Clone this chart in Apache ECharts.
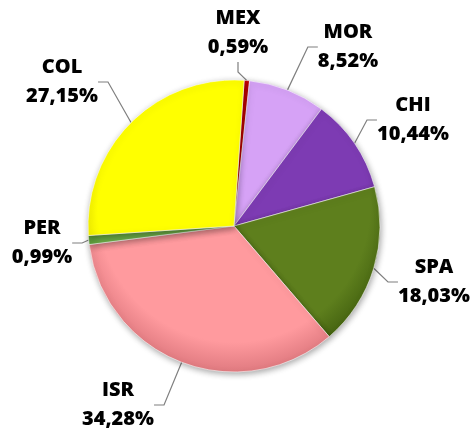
<!DOCTYPE html>
<html>
<head>
<meta charset="utf-8">
<script src="https://cdn.jsdelivr.net/npm/echarts@6/dist/echarts.min.js"></script>
<style>
html,body{margin:0;padding:0;background:#fff;}
#chart{width:470px;height:432px;}
</style>
</head>
<body>
<div id="chart"></div>
<script>
// ---- data ----
const categories = ['MEX', 'MOR', 'CHI', 'SPA', 'ISR', 'PER', 'COL'];
const shares = [0.59, 8.52, 10.44, 18.03, 34.28, 0.99, 27.15];

// ---- styles / layout (not data) ----
const sliceColors = ['#d40000', '#d6a2f6', '#7d3bb3', '#5e7f1d', '#ff9a9e', '#6aaa46', '#ffff00'];
const sliceEdge   = ['#9a0000', '#b07cd0', '#5a2385', '#42600f', '#e07a80', '#4b8a2c', '#e0d800'];
const labelCenters = [[238, 33], [348, 47], [413, 120], [434, 282], [118, 405], [42, 243], [62, 82]];
const pieCenter = [234, 226];
const pieRadius = 146;

const chart = echarts.init(document.getElementById('chart'));

function fmt(v) { return v.toFixed(2).replace('.', ',') + '%'; }

const seriesData = categories.map((c, i) => ({
  name: c,
  value: shares[i],
  itemStyle: {
    color: new echarts.graphic.RadialGradient(pieCenter[0], pieCenter[1] - 20, pieRadius + 20, [
      { offset: 0, color: sliceColors[i] },
      { offset: 0.82, color: sliceColors[i] },
      { offset: 1, color: sliceEdge[i] }
    ], true)
  }
}));

chart.setOption({
  animation: false,
  backgroundColor: '#ffffff',
  series: [{
    type: 'pie',
    center: pieCenter,
    radius: pieRadius,
    startAngle: 86,
    clockwise: true,
    avoidLabelOverlap: false,
    data: seriesData,
    itemStyle: {
      borderColor: 'rgba(255,255,255,0.55)',
      borderWidth: 1,
      shadowColor: 'rgba(0,0,0,0.35)',
      shadowBlur: 6,
      shadowOffsetX: 1,
      shadowOffsetY: 2
    },
    label: {
      show: true,
      position: 'outside',
      formatter: p => p.name + '\n' + fmt(p.value),
      fontFamily: 'Open Sans',
      fontWeight: 800,
      fontSize: 20,
      lineHeight: 29,
      color: '#000000'
    },
    labelLine: {
      show: true,
      length: 10,
      length2: 10,
      lineStyle: { color: '#7f7f7f', width: 1.2 }
    },
    labelLayout: function (params) {
      const c = labelCenters[params.dataIndex];
      return { x: c[0], y: c[1], align: 'center', verticalAlign: 'middle' };
    }
  }]
});
</script>
</body>
</html>
